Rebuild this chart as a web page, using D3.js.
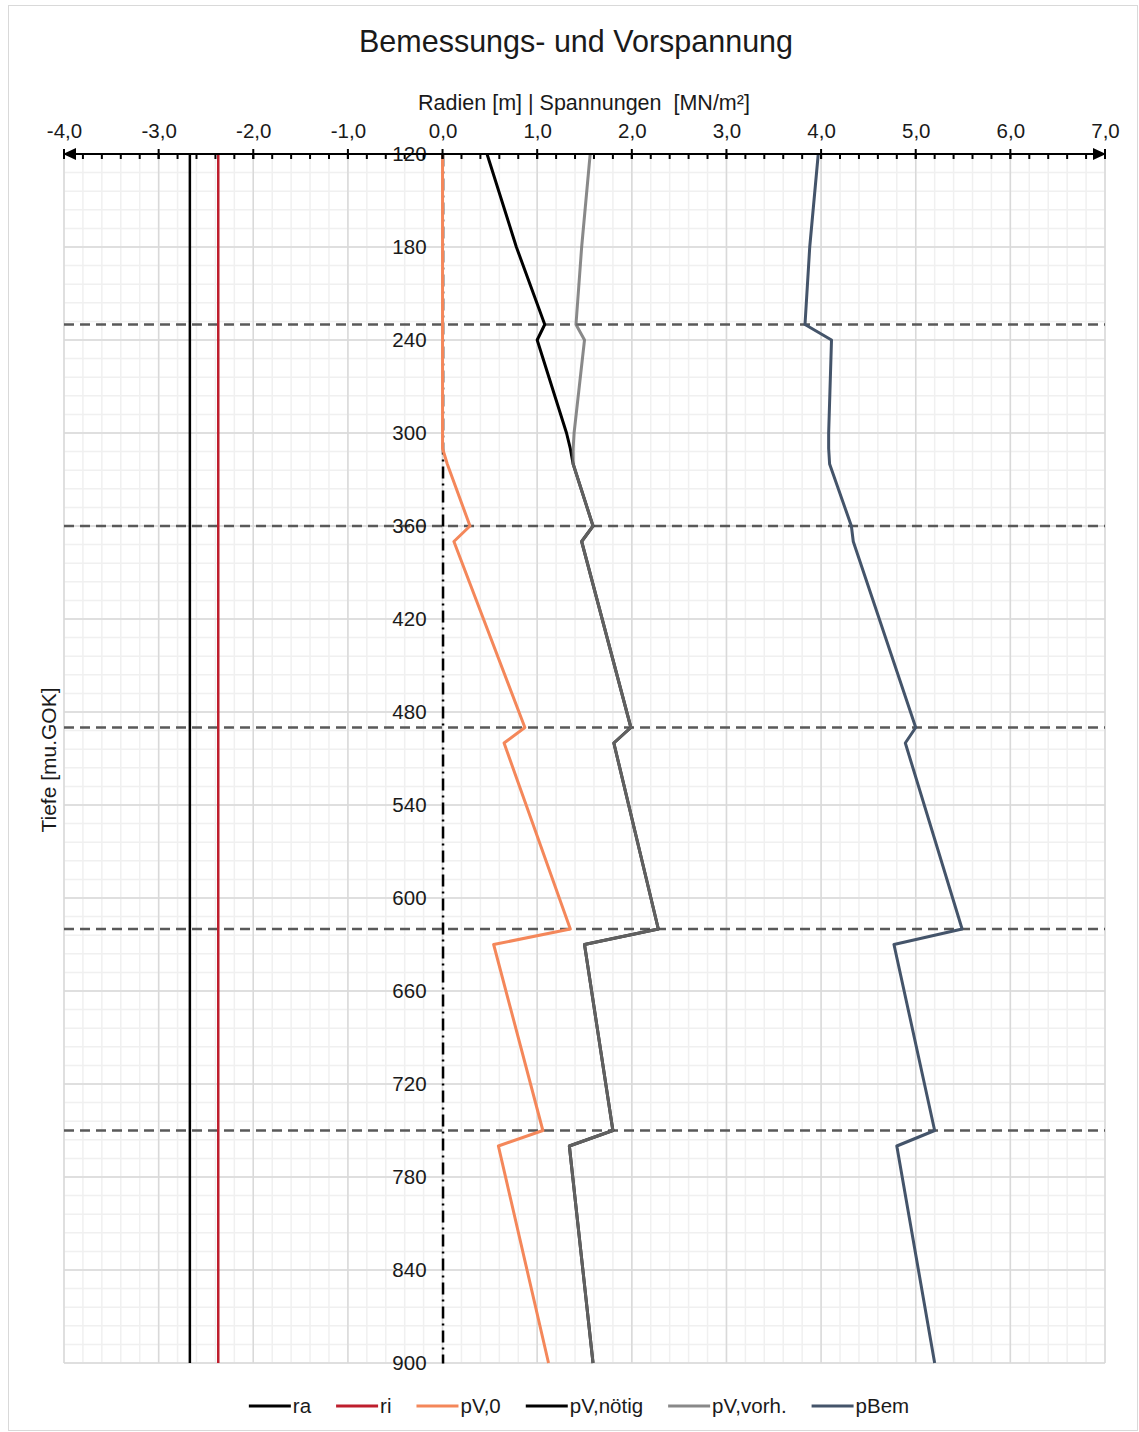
<!DOCTYPE html>
<html lang="de">
  <head>
    <meta charset="utf-8">
    <title>Bemessungs- und Vorspannung</title>
    <script src="https://cdn.jsdelivr.net/npm/d3@7"></script>
    <style type="text/css">
    body { margin: 0; background: #fff; }
    text { font-family: "Liberation Sans", Arial, sans-serif; fill: #1a1a1a; }
    .pre { white-space: pre; }
</style>
  </head>
  <body>

<script>
// data
var depth = [120, 180, 230, 240, 300, 310, 320, 360, 370, 490, 500, 620, 630, 750, 760, 900];
var pV0 = [0, 0, 0, 0, 0, 0, 0.05, 0.29, 0.12, 0.87, 0.65, 1.35, 0.54, 1.06, 0.59, 1.12];
var pVnoetig = [0.47, 0.78, 1.08, 1.00, 1.31, 1.35, 1.38, 1.59, 1.47, 1.99, 1.81, 2.28, 1.50, 1.80, 1.34, 1.59];
var pVvorh = [1.56, 1.47, 1.41, 1.50, 1.39, 1.38, 1.38, 1.59, 1.47, 1.99, 1.81, 2.28, 1.50, 1.80, 1.34, 1.59];
var pBem = [3.97, 3.88, 3.83, 4.11, 4.08, 4.08, 4.09, 4.32, 4.34, 5.00, 4.89, 5.49, 4.77, 5.20, 4.80, 5.20];
var radiusDepth = [120, 900];
var ra = [-2.67, -2.67];
var ri = [-2.37, -2.37];
var layerDepths = [230, 360, 490, 620, 750];
var xTicks = [-4, -3, -2, -1, 0, 1, 2, 3, 4, 5, 6, 7];
var yTicks = [120, 180, 240, 300, 360, 420, 480, 540, 600, 660, 720, 780, 840, 900];

var width = 1139, height = 1432;
var pLeft = 64, pRight = 1105, pTop = 154, pBottom = 1363;

var de = d3.formatLocale({decimal: ",", thousands: ".", grouping: [3], currency: ["", " €"], minus: "-"});
var fmt = de.format(".1f");

var svg = d3.select("body").append("svg").attr("width", width).attr("height", height);

// frame
svg.append("rect").attr("x", 8.5).attr("y", 5.5).attr("width", 1129).attr("height", 1425)
   .attr("fill", "none").attr("stroke", "#d9d9d9");

var x = d3.scaleLinear().domain([-4, 7]).range([pLeft, pRight]);
var y = d3.scaleLinear().domain([120, 900]).range([pTop, pBottom]);

// grid
var minorX = d3.range(0, 56).map(function (i) { return -4 + i * 0.2; });
var minorY = d3.range(120, 901, 12);
var grid = svg.append("g");
grid.selectAll(".mx").data(minorX).enter().append("line")
   .attr("x1", x).attr("x2", x).attr("y1", pTop).attr("y2", pBottom)
   .attr("stroke", "#f0f0f0").attr("stroke-width", 1.5);
grid.selectAll(".my").data(minorY).enter().append("line")
   .attr("x1", pLeft).attr("x2", pRight).attr("y1", y).attr("y2", y)
   .attr("stroke", "#f0f0f0").attr("stroke-width", 1.5);
grid.selectAll(".gx").data(xTicks).enter().append("line")
   .attr("x1", x).attr("x2", x).attr("y1", pTop).attr("y2", pBottom)
   .attr("stroke", "#d9d9d9").attr("stroke-width", 1.5);
grid.selectAll(".gy").data(yTicks).enter().append("line")
   .attr("x1", pLeft).attr("x2", pRight).attr("y1", y).attr("y2", y)
   .attr("stroke", "#d9d9d9").attr("stroke-width", 1.5);

// layer boundaries
svg.append("g").selectAll("line").data(layerDepths).enter().append("line")
   .attr("x1", pLeft).attr("x2", pRight).attr("y1", y).attr("y2", y)
   .attr("stroke", "#595959").attr("stroke-width", 2.5).attr("stroke-dasharray", "10,6");

// depth axis (dash-dot at x = 0)
var yAxis = svg.append("g").attr("transform", "translate(" + x(0) + ",0)")
   .call(d3.axisLeft(y).tickValues(yTicks).tickSize(0).tickSizeOuter(0).tickPadding(16));
yAxis.select(".domain").attr("stroke", "#000").attr("stroke-width", 2.5).attr("stroke-dasharray", "12,5,2,5");
yAxis.selectAll("text").attr("font-size", 20.5).attr("fill", "#1a1a1a")
   .style("font-family", '"Liberation Sans", Arial, sans-serif');

// series
function pts(xs, ds) { return xs.map(function (v, i) { return [v, ds[i]]; }); }
var line = d3.line().x(function (d) { return x(d[0]); }).y(function (d) { return y(d[1]); });

var series = [
  {name: "ra", values: pts(ra, radiusDepth), color: "#000000", w: 2.5, op: 1},
  {name: "ri", values: pts(ri, radiusDepth), color: "#be1e2d", w: 2.5, op: 1},
  {name: "pV,0", values: pts(pV0, depth), color: "#f4875a", w: 3, op: 1},
  {name: "pV,nötig", values: pts(pVnoetig, depth), color: "#000000", w: 3, op: 1},
  {name: "pV,vorh.", values: pts(pVvorh, depth), color: "#727272", w: 3, op: 0.84},
  {name: "pBem", values: pts(pBem, depth), color: "#44546a", w: 3, op: 1}
];

svg.append("g").selectAll("path").data(series).enter().append("path")
   .attr("d", function (d) { return line(d.values); })
   .attr("fill", "none")
   .attr("stroke", function (d) { return d.color; })
   .attr("stroke-width", function (d) { return d.w; })
   .attr("stroke-opacity", function (d) { return d.op; })
   .attr("stroke-linejoin", "round");

// top axis with arrows
var xa = svg.append("g");
xa.append("line").attr("x1", pLeft).attr("x2", pRight).attr("y1", pTop).attr("y2", pTop)
   .attr("stroke", "#000").attr("stroke-width", 2);
xa.selectAll(".minor").data(minorX).enter().append("line")
   .attr("x1", x).attr("x2", x).attr("y1", pTop).attr("y2", pTop + 5)
   .attr("stroke", "#000").attr("stroke-width", 2);
xa.selectAll(".major").data(xTicks).enter().append("line")
   .attr("x1", x).attr("x2", x).attr("y1", pTop - 5).attr("y2", pTop + 5)
   .attr("stroke", "#000").attr("stroke-width", 2);
xa.append("path").attr("d", "M" + (pLeft - 1) + "," + pTop + "l13,-6v12z").attr("fill", "#000");
xa.append("path").attr("d", "M" + (pRight + 1) + "," + pTop + "l-13,-6v12z").attr("fill", "#000");

var xLabels = svg.append("g").attr("transform", "translate(0," + pTop + ")")
   .call(d3.axisTop(x).tickValues(xTicks).tickFormat(fmt).tickSize(0).tickPadding(16));
xLabels.select(".domain").remove();
xLabels.selectAll("text").attr("font-size", 20.5).attr("fill", "#1a1a1a")
   .style("font-family", '"Liberation Sans", Arial, sans-serif');

// titles
svg.append("text").attr("x", 576).attr("y", 52).attr("text-anchor", "middle")
   .attr("font-size", 30.5).text("Bemessungs- und Vorspannung");
svg.append("text").attr("class", "pre").attr("x", 584).attr("y", 110).attr("text-anchor", "middle")
   .attr("font-size", 21.5).text("Radien [m] | Spannungen  [MN/m²]");
svg.append("text").attr("transform", "translate(56,760) rotate(-90)").attr("text-anchor", "middle")
   .attr("font-size", 21).text("Tiefe [mu.GOK]");

// legend
var legend = svg.append("g");
var items = legend.selectAll("g").data(series).enter().append("g");
items.append("line").attr("x1", 0).attr("x2", 42).attr("y1", 0).attr("y2", 0)
   .attr("stroke", function (d) { return d.color; })
   .attr("stroke-opacity", function (d) { return d.op; })
   .attr("stroke-width", 3);
items.append("text").attr("x", 44).attr("y", 7).attr("font-size", 20.5).text(function (d) { return d.name; });
var gap = 25, pos = 0;
items.each(function () {
  var g = d3.select(this);
  g.attr("transform", "translate(" + pos + ",0)");
  pos += 44 + g.select("text").node().getComputedTextLength() + gap;
});
var total = pos - gap;
legend.attr("transform", "translate(" + (579 - total / 2) + ",1406)");
</script>

  </body>
</html>
